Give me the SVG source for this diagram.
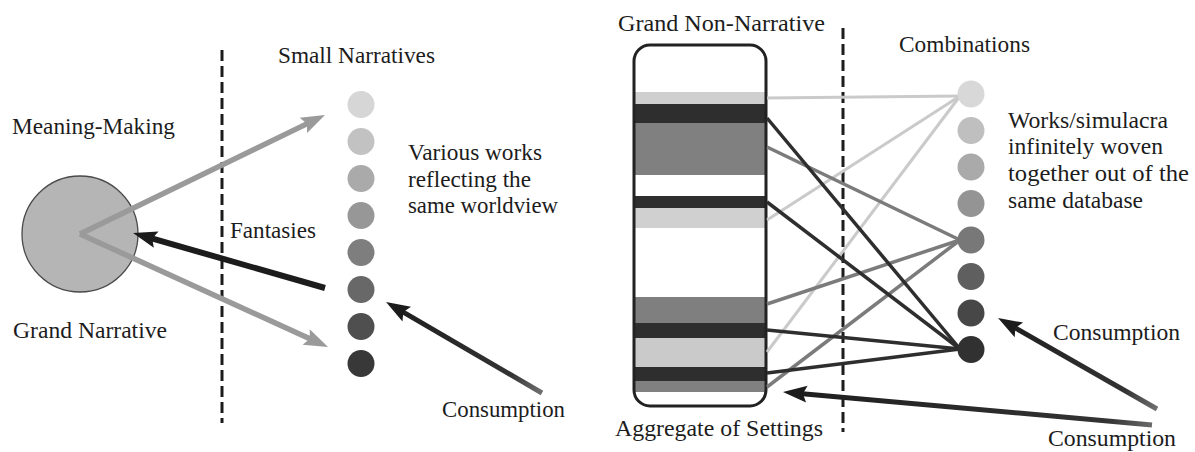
<svg xmlns="http://www.w3.org/2000/svg" width="1195" height="452" viewBox="0 0 1195 452">
  <style>
    text { font-size: 23.5px; fill: #1c1c1c; }
    .divider { stroke: #1c1c1c; stroke-width: 3; stroke-dasharray: 11 5; fill: none; }
    .gray-arrow { stroke: #9a9a9a; stroke-width: 5.5; fill: none; }
    .black-arrow { stroke: #1c1c1c; stroke-width: 6; fill: none; }
    .consume { stroke-width: 5; fill: none; }
    .link { fill: none; stroke-width: 3.5; }
    .link-light { stroke: #cacaca; stroke-width: 3; }
    .link-mid { stroke: #7b7b7b; }
    .link-dark { stroke: #2e2e2e; }
  </style>
  <defs>
    <marker id="head-gray" markerUnits="userSpaceOnUse" orient="auto" markerWidth="40" markerHeight="30" refX="0" refY="0" viewBox="-15 -15 40 30" overflow="visible">
      <path d="M-10,-8.5 L14,0 L-10,8.5 L-6,0 Z" fill="#9a9a9a"/>
    </marker>
    <marker id="head-black" markerUnits="userSpaceOnUse" orient="auto" markerWidth="40" markerHeight="30" refX="0" refY="0" viewBox="-15 -15 40 30" overflow="visible">
      <path d="M-10,-8.5 L14,0 L-10,8.5 L-6,0 Z" fill="#1c1c1c"/>
    </marker>
    <linearGradient id="g-consume-left" gradientUnits="userSpaceOnUse" x1="542" y1="393" x2="386" y2="302">
      <stop offset="0" stop-color="#707070"/>
      <stop offset="0.2" stop-color="#333333"/>
      <stop offset="1" stop-color="#1e1e1e"/>
    </linearGradient>
    <linearGradient id="g-consume-upper" gradientUnits="userSpaceOnUse" x1="1157" y1="409" x2="998" y2="318">
      <stop offset="0" stop-color="#707070"/>
      <stop offset="0.2" stop-color="#333333"/>
      <stop offset="1" stop-color="#1e1e1e"/>
    </linearGradient>
    <linearGradient id="g-consume-lower" gradientUnits="userSpaceOnUse" x1="1152" y1="425" x2="783" y2="392">
      <stop offset="0" stop-color="#6a6a6a"/>
      <stop offset="0.12" stop-color="#333333"/>
      <stop offset="1" stop-color="#1e1e1e"/>
    </linearGradient>
  </defs>

  <rect x="0" y="0" width="1195" height="452" fill="#ffffff"/>

  <!-- dashed dividers -->
  <line class="divider" x1="222" y1="50" x2="222" y2="423"/>
  <line class="divider" x1="843" y1="28" x2="843" y2="432"/>

  <g font-family="Liberation Serif, Times New Roman, DejaVu Serif, serif">
  <!-- left panel: grand narrative -->
  <g id="grand-narrative">
    <circle cx="80" cy="234" r="58" fill="#b5b5b5" stroke="#4a4a4a" stroke-width="1.3"/>
    <text x="12" y="134" textLength="163" lengthAdjust="spacingAndGlyphs">Meaning-Making</text>
    <text x="13" y="338" textLength="154" lengthAdjust="spacingAndGlyphs">Grand Narrative</text>
  </g>

  <g id="fantasies-label">
    <text x="230" y="238" textLength="86" lengthAdjust="spacingAndGlyphs">Fantasies</text>
  </g>

  <g id="small-narratives">
    <text x="278" y="63" textLength="157" lengthAdjust="spacingAndGlyphs">Small Narratives</text>
    <circle cx="361" cy="104.5" r="13.5" fill="#d6d6d6"/>
    <circle cx="361" cy="141.5" r="13.5" fill="#c2c2c2"/>
    <circle cx="361" cy="178.5" r="13.5" fill="#aaaaaa"/>
    <circle cx="361" cy="215.5" r="13.5" fill="#979797"/>
    <circle cx="361" cy="252.5" r="13.5" fill="#7e7e7e"/>
    <circle cx="361" cy="289.5" r="13.5" fill="#686868"/>
    <circle cx="361" cy="326.5" r="13.5" fill="#4f4f4f"/>
    <circle cx="361" cy="363.5" r="13.5" fill="#383838"/>
    <text x="408" y="160" textLength="134" lengthAdjust="spacingAndGlyphs">Various works</text>
    <text x="408" y="187" textLength="123" lengthAdjust="spacingAndGlyphs">reflecting the</text>
    <text x="408" y="213" textLength="150" lengthAdjust="spacingAndGlyphs">same worldview</text>
  </g>

  <g id="consumption-left">
    <text x="442" y="417" textLength="123" lengthAdjust="spacingAndGlyphs">Consumption</text>
  </g>

  <!-- right panel: database of settings -->
  <g id="grand-non-narrative">
    <text x="618" y="31" textLength="207" lengthAdjust="spacingAndGlyphs">Grand Non-Narrative</text>
    <rect x="635" y="92" width="131" height="12" fill="#cfcfcf"/>
    <rect x="635" y="104" width="131" height="19" fill="#2e2e2e"/>
    <rect x="635" y="123" width="131" height="52" fill="#808080"/>
    <rect x="635" y="196" width="131" height="12" fill="#2e2e2e"/>
    <rect x="635" y="208" width="131" height="20" fill="#d0d0d0"/>
    <rect x="635" y="297" width="131" height="26" fill="#7f7f7f"/>
    <rect x="635" y="323" width="131" height="15" fill="#2e2e2e"/>
    <rect x="635" y="338" width="131" height="29" fill="#cacaca"/>
    <rect x="635" y="367" width="131" height="14" fill="#2e2e2e"/>
    <rect x="635" y="381" width="131" height="11" fill="#808080"/>
    <rect x="634" y="45" width="132" height="361" rx="16" ry="16" fill="none" stroke="#222222" stroke-width="3"/>
    <text x="615" y="436" textLength="208" lengthAdjust="spacingAndGlyphs">Aggregate of Settings</text>
  </g>

  <!-- connectors -->
  <g id="connectors">
    <!-- settings woven into works -->
    <line class="link link-light" x1="767" y1="98" x2="960" y2="96"/>
    <line class="link link-light" x1="767" y1="220" x2="960" y2="96"/>
    <line class="link link-light" x1="767" y1="352" x2="960" y2="96"/>
    <line class="link link-mid" x1="767" y1="147" x2="960" y2="240"/>
    <line class="link link-mid" x1="767" y1="304" x2="960" y2="240"/>
    <line class="link link-mid" x1="767" y1="387" x2="960" y2="240"/>
    <line class="link link-dark" x1="767" y1="118" x2="960" y2="349"/>
    <line class="link link-dark" x1="767" y1="202" x2="960" y2="349"/>
    <line class="link link-dark" x1="767" y1="330" x2="960" y2="349"/>
    <line class="link link-dark" x1="767" y1="373" x2="960" y2="349"/>

    <!-- grand narrative arrows -->
    <line class="gray-arrow" x1="80" y1="234" x2="312.4" y2="121.1" marker-end="url(#head-gray)"/>
    <line class="gray-arrow" x1="80" y1="234" x2="315.3" y2="341.2" marker-end="url(#head-gray)"/>
    <line class="black-arrow" x1="325" y1="288" x2="146.5" y2="236.9" marker-end="url(#head-black)"/>

    <!-- consumption arrows -->
    <line class="consume" stroke="url(#g-consume-left)" x1="542" y1="393" x2="398.1" y2="309.1" marker-end="url(#head-black)"/>
    <line class="consume" stroke="url(#g-consume-upper)" x1="1157" y1="409" x2="1010.2" y2="325" marker-end="url(#head-black)"/>
    <line class="consume" stroke="url(#g-consume-lower)" x1="1152" y1="425" x2="796.9" y2="393.2" marker-end="url(#head-black)"/>
  </g>

  <g id="combinations">
    <text x="899" y="52" textLength="131" lengthAdjust="spacingAndGlyphs">Combinations</text>
    <circle cx="971" cy="94" r="13.5" fill="#d8d8d8"/>
    <circle cx="971" cy="130.5" r="13.5" fill="#bfbfbf"/>
    <circle cx="971" cy="167" r="13.5" fill="#aaaaaa"/>
    <circle cx="971" cy="203.5" r="13.5" fill="#949494"/>
    <circle cx="971" cy="240" r="13.5" fill="#787878"/>
    <circle cx="971" cy="276.5" r="13.5" fill="#5f5f5f"/>
    <circle cx="971" cy="313" r="13.5" fill="#474747"/>
    <circle cx="971" cy="349.5" r="13.5" fill="#313131"/>
    <text x="1008" y="128" textLength="160" lengthAdjust="spacingAndGlyphs">Works/simulacra</text>
    <text x="1008" y="154" textLength="155" lengthAdjust="spacingAndGlyphs">infinitely woven</text>
    <text x="1008" y="181" textLength="181" lengthAdjust="spacingAndGlyphs">together out of the</text>
    <text x="1008" y="208" textLength="135" lengthAdjust="spacingAndGlyphs">same database</text>
  </g>

  <g id="consumption-right">
    <text x="1053" y="340" textLength="127" lengthAdjust="spacingAndGlyphs">Consumption</text>
    <text x="1048" y="446" textLength="128" lengthAdjust="spacingAndGlyphs">Consumption</text>
  </g>
  </g>
</svg>
